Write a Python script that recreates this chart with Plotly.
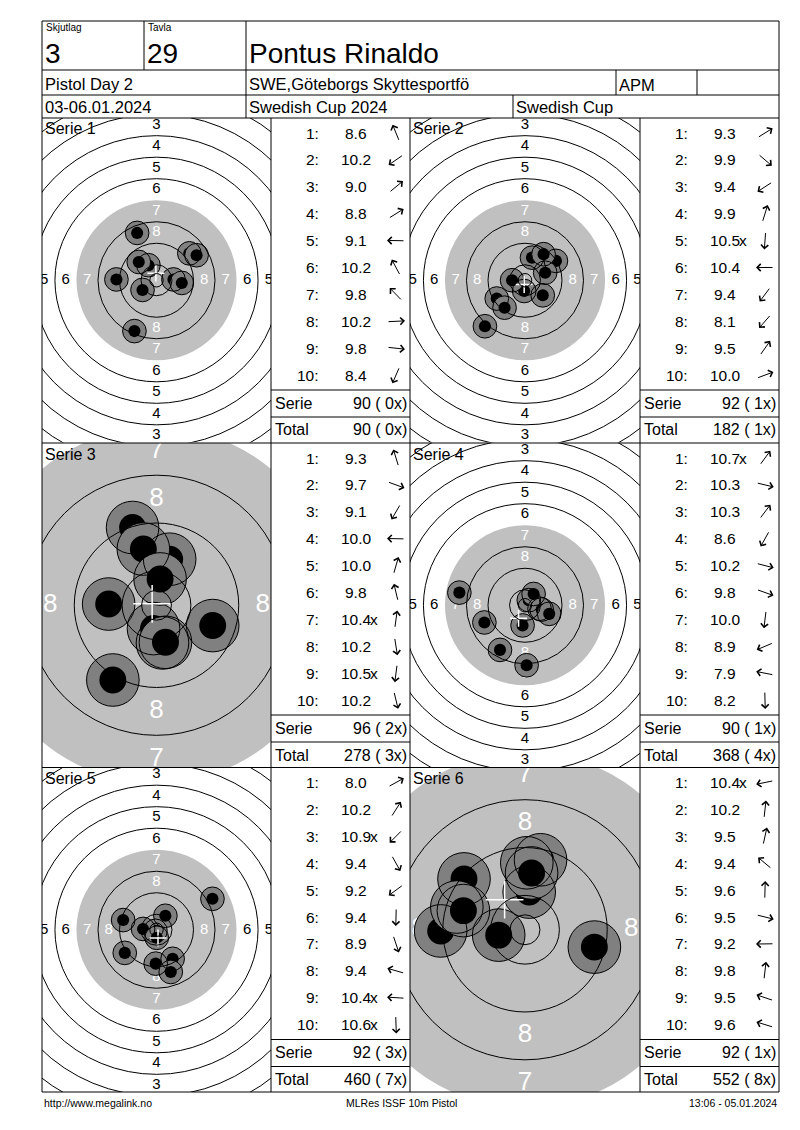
import math
import plotly.graph_objects as go

W, H = 800, 1130
FONT = "Liberation Sans, Arial, sans-serif"

# header texts
SKJUTLAG = "3"
TAVLA = "29"
NAME = "Pontus Rinaldo"
EVENT = "Pistol Day 2"
CLUB = "SWE,Göteborgs Skyttesportfö"
CLASS = "APM"
DATES = "03-06.01.2024"
MATCH = "Swedish Cup 2024"
CUP = "Swedish Cup"
FOOT_LEFT = "http://www.megalink.no"
FOOT_MID = "MLRes ISSF 10m Pistol"
FOOT_RIGHT = "13:06 - 05.01.2024"

SERIE1_SCORES = [8.6, 10.2, 9.0, 8.8, 9.1, 10.2, 9.8, 10.2, 9.8, 8.4]
SERIE1_INNER = [0, 0, 0, 0, 0, 0, 0, 0, 0, 0]
SERIE1_X = [-7.2, -5.2, 12.2, 14.9, -14.9, -3.0, -6.6, 6.3, 9.4, -8.2]
SERIE1_Y = [17.6, -3.6, 10.0, 9.3, 0.3, 5.6, 6.8, 0.3, -1.0, -18.9]

SERIE2_SCORES = [9.3, 9.9, 9.4, 9.9, 10.5, 10.4, 9.4, 8.1, 9.5, 10.0]
SERIE2_INNER = [0, 0, 0, 0, 1, 0, 0, 0, 0, 0]
SERIE2_X = [11.5, 6.6, -10.5, 2.6, -0.3, -4.8, -7.6, -14.9, 6.9, 7.5]
SERIE2_Y = [7.2, -5.6, -6.8, 8.4, -4.0, 0.0, -10.2, -17.1, 9.7, 2.8]

SERIE3_SCORES = [9.3, 9.7, 9.1, 10.0, 10.0, 9.8, 10.4, 10.2, 10.5, 10.2]
SERIE3_INNER = [0, 0, 0, 0, 0, 0, 1, 0, 1, 0]
SERIE3_X = [-4.0, 9.4, -7.3, -8.0, 2.2, -2.2, 0.6, 1.0, -0.5, 1.5]
SERIE3_Y = [13.0, -3.4, -12.5, 0.2, 7.7, 9.4, 4.4, -6.3, -3.9, -6.2]

SERIE4_SCORES = [10.7, 10.3, 10.3, 8.6, 10.2, 9.8, 10.0, 8.9, 7.9, 8.2]
SERIE4_INNER = [1, 0, 0, 0, 0, 0, 0, 0, 0, 0]
SERIE4_X = [1.4, 5.4, 3.2, -9.3, 6.2, 9.0, -0.9, -15.1, -24.4, 0.6]
SERIE4_Y = [1.9, -1.3, 4.2, -16.6, -1.6, -3.2, -7.5, -6.4, 4.7, -22.3]

SERIE5_SCORES = [8.0, 10.2, 10.9, 9.4, 9.2, 9.4, 8.9, 9.4, 10.4, 10.6]
SERIE5_INNER = [0, 0, 1, 0, 0, 0, 0, 0, 1, 1]
SERIE5_X = [20.8, 3.3, -0.4, 6.0, -11.8, -0.3, 5.3, -12.4, -5.0, 0.1]
SERIE5_Y = [11.5, 5.2, -0.4, -10.8, -8.6, -12.6, -15.7, 3.6, 0.3, -3.0]

SERIE6_SCORES = [10.4, 10.2, 9.5, 9.4, 9.6, 9.5, 9.2, 9.8, 9.5, 9.6]
SERIE6_INNER = [1, 0, 0, 0, 0, 0, 0, 0, 0, 0]
SERIE6_X = [-4.4, 0.7, 2.6, -10.2, 0.3, 11.6, -14.1, 1.1, -11.4, -10.3]
SERIE6_Y = [-0.9, 6.3, 11.7, 8.5, 11.2, -2.9, -0.2, 9.5, 3.8, 3.2]

SERIES = [
    (SERIE1_SCORES, SERIE1_INNER, SERIE1_X, SERIE1_Y),
    (SERIE2_SCORES, SERIE2_INNER, SERIE2_X, SERIE2_Y),
    (SERIE3_SCORES, SERIE3_INNER, SERIE3_X, SERIE3_Y),
    (SERIE4_SCORES, SERIE4_INNER, SERIE4_X, SERIE4_Y),
    (SERIE5_SCORES, SERIE5_INNER, SERIE5_X, SERIE5_Y),
    (SERIE6_SCORES, SERIE6_INNER, SERIE6_X, SERIE6_Y),
]

# page geometry (pixels)
L, R, TOP, BOTTOM = 42, 779, 21, 1092
ROW_TOPS = [118, 443, 767.5]
ROW_H = 324.5
COL_TARGET = [(42, 271), (410, 640)]
COL_SCORE = [(271, 410), (640, 779)]
BASE_SCALE = 2.69     # px per mm
ZOOM_SCALE = 5.98     # series 3 and 6 are shown enlarged
ZOOMED = {2, 5}

# ISSF 10 m pistol target, radii in mm
def ring_r(n):
    return 5.75 + (10 - n) * 8
INNER_R = 2.5
HOLE_R = 2.25
HALO_R = 4.4


def fx(x):
    return x / W


def fy(y):
    return 1 - y / H


fig = go.Figure()
shapes = []
annotations = []


def line(x0, y0, x1, y1):
    shapes.append(dict(type="line", xref="paper", yref="paper",
                       x0=fx(x0), y0=fy(y0), x1=fx(x1), y1=fy(y1),
                       line=dict(color="black", width=1)))


def text(x, y, s, size, anchor="left", color="black"):
    annotations.append(dict(x=fx(x), y=fy(y), xref="paper", yref="paper",
                            text=s, showarrow=False, xanchor=anchor, yanchor="middle",
                            font=dict(family=FONT, size=size, color=color)))


# table frame
line(L, TOP, R, TOP)
line(L, BOTTOM, R, BOTTOM)
line(L, TOP, L, BOTTOM)
line(R, TOP, R, BOTTOM)
for yy in (70, 95, 118, 443, 767.5):
    line(L, yy, R, yy)
line(144, TOP, 144, 70)
line(246, TOP, 246, 118)
line(616, 70, 616, 95)
line(697, 70, 697, 95)
line(513, 95, 513, 118)
for xx in (271, 410, 640):
    line(xx, 118, xx, BOTTOM)
for top in ROW_TOPS:
    for c0, c1 in COL_SCORE:
        line(c0, top + 272, c1, top + 272)
        line(c0, top + 299, c1, top + 299)

# header
text(44, 28, "Skjutlag", 10)
text(146, 28, "Tavla", 10)
text(43, 53, SKJUTLAG, 28)
text(145, 53, TAVLA, 28)
text(247, 53, NAME, 28)
text(43, 84, EVENT, 16.5)
text(247, 84, CLUB, 16.5)
text(617, 85, CLASS, 16.5)
text(43, 107, DATES, 16.5)
text(247, 107, MATCH, 16.5)
text(514, 107, CUP, 16.5)

# footer
text(42, 1103, FOOT_LEFT, 10.5)
text(402, 1103, FOOT_MID, 10.5, anchor="center")
text(779, 1103, FOOT_RIGHT, 10.5, anchor="right")

total = 0
total_x = 0
for i, (scores, inner, sx, sy) in enumerate(SERIES):
    k = i + 1
    suffix = "" if k == 1 else str(k)
    xa, ya = "x" + suffix, "y" + suffix
    s = ZOOM_SCALE if i in ZOOMED else BASE_SCALE
    row, col = divmod(i, 2)
    x0, x1 = COL_TARGET[col]
    y0 = ROW_TOPS[row]
    y1 = y0 + ROW_H
    hw = (x1 - x0) / 2 / s
    hh = (y1 - y0) / 2 / s
    fig.update_layout({
        "xaxis" + suffix: dict(domain=[fx(x0), fx(x1)], range=[-hw, hw], visible=False,
                               fixedrange=True, anchor=ya),
        "yaxis" + suffix: dict(domain=[fy(y1), fy(y0)], range=[-hh, hh], visible=False,
                               fixedrange=True, anchor=xa),
    })

    # black (here grey) aiming area
    r7 = ring_r(7)
    shapes.append(dict(type="circle", xref=xa, yref=ya, x0=-r7, x1=r7, y0=-r7, y1=r7,
                       fillcolor="#c0c0c0", line=dict(width=0), layer="below"))

    # ring numbers
    lx, ly, lt, lc = [], [], [], []
    for n in range(1, 9):
        d = ring_r(n) - 4
        for dx, dy in ((0, 1), (0, -1), (-1, 0), (1, 0)):
            lx.append(dx * d)
            ly.append(dy * d)
            lt.append(str(n))
            lc.append("white" if n >= 7 else "black")
    fig.add_trace(go.Scatter(x=lx, y=ly, text=lt, mode="text", xaxis=xa, yaxis=ya,
                             textfont=dict(family=FONT, size=26 if i in ZOOMED else 15, color=lc),
                             hoverinfo="skip", showlegend=False))

    # shots: halo then hole, in firing order
    hx, hy, hs, hc = [], [], [], []
    for x, y in zip(sx, sy):
        hx += [x, x]
        hy += [y, y]
        hs += [2 * HALO_R * s, 2 * HOLE_R * s]
        hc += ["#808080", "black"]
    fig.add_trace(go.Scatter(x=hx, y=hy, mode="markers", xaxis=xa, yaxis=ya,
                             marker=dict(size=hs, color=hc, opacity=1, line=dict(width=0)),
                             hoverinfo="skip", showlegend=False))
    fig.add_trace(go.Scatter(x=sx, y=sy, mode="markers", xaxis=xa, yaxis=ya,
                             marker=dict(symbol="circle-open", size=2 * HALO_R * s, color="black",
                                         opacity=1, line=dict(width=1)),
                             hoverinfo="skip", showlegend=False))
    # group centre
    fig.add_trace(go.Scatter(x=[sum(sx) / len(sx)], y=[sum(sy) / len(sy)], mode="markers",
                             xaxis=xa, yaxis=ya,
                             marker=dict(symbol="cross-thin", size=2 * HOLE_R * s, opacity=1,
                                         line=dict(color="white", width=1.5)),
                             hoverinfo="skip", showlegend=False))

    # ring lines drawn over the shots
    for n in (1, 2, 3, 4, 5, 6, 8, 9, 10):
        r = ring_r(n)
        shapes.append(dict(type="circle", xref=xa, yref=ya, x0=-r, x1=r, y0=-r, y1=r,
                           line=dict(color="black", width=1), layer="above"))
    shapes.append(dict(type="circle", xref=xa, yref=ya, x0=-INNER_R, x1=INNER_R,
                       y0=-INNER_R, y1=INNER_R, line=dict(color="black", width=1), layer="above"))

    text(x0 + 1, y0 + 11, f"Serie {k}", 16)

    # score column
    c0, c1 = COL_SCORE[col]
    for j, (v, ix, x, y) in enumerate(zip(scores, inner, sx, sy)):
        ry = y0 + 15 + j * 26.9
        text(c0 + 50, ry, f"{j + 1}:", 15.5, anchor="right")
        text(c0 + 85, ry, f"{v:.1f}", 15.5, anchor="center")
        if ix:
            text(c0 + 97, ry, "x", 15.5)
        a = math.atan2(y, x)
        ln = 18
        cxp, cyp = c0 + 125, ry
        hxp = cxp + ln / 2 * math.cos(a)
        hyp = cyp - ln / 2 * math.sin(a)
        annotations.append(dict(x=fx(hxp), y=fy(hyp), xref="paper", yref="paper", text="",
                                showarrow=True, ax=-ln * math.cos(a), ay=ln * math.sin(a),
                                arrowhead=4, arrowsize=1.4, arrowwidth=1, arrowcolor="black",
                                standoff=0, startstandoff=0))
    serie = sum(int(v) for v in scores)
    nx = sum(inner)
    total += serie
    total_x += nx
    text(c0 + 2, y0 + 285, "Serie", 16)
    text(c1 - 1, y0 + 285, f"{serie} ({nx:2d}x)", 16, anchor="right")
    text(c0 + 2, y0 + 312, "Total", 16)
    text(c1 - 1, y0 + 312, f"{total} ({total_x:2d}x)", 16, anchor="right")

fig.update_layout(width=W, height=H, margin=dict(l=0, r=0, t=0, b=0),
                  paper_bgcolor="white", plot_bgcolor="white",
                  shapes=shapes, annotations=annotations, showlegend=False)

fig.write_html("out.html", config={"displayModeBar": False},
               post_script="document.body.style.margin='0';")
